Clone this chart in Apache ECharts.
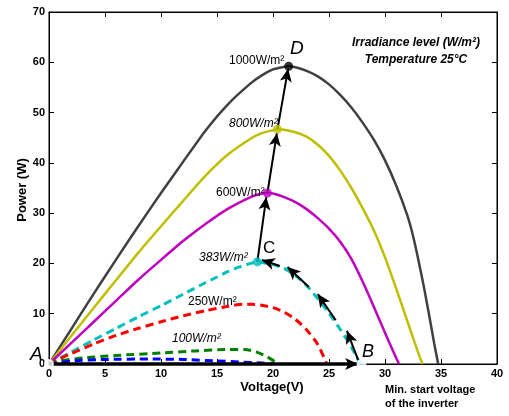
<!DOCTYPE html>
<html>
<head>
<meta charset="utf-8">
<script src="https://cdn.jsdelivr.net/npm/echarts@6/dist/echarts.min.js"></script>
<style>
  html, body { margin: 0; padding: 0; background: #fff; }
  #chart { width: 509px; height: 416px; }
</style>
</head>
<body>
<div id="chart"></div>
<script>
// P-V curves of the PV module at different irradiance levels (V in volts, P in watts)
const v1000 = [0, 1, 2, 4, 6, 8, 10, 12, 14, 16, 18, 19, 20, 21, 21.4, 22, 23, 24, 25, 26, 27, 28, 29, 30, 31, 32, 32.5, 33, 33.5, 34, 34.4, 34.75];
const p1000 = [0, 3.5, 7, 14, 20.8, 27.5, 34, 40.3, 46.5, 51.7, 55.8, 57.4, 58.6, 59.1, 59.2, 59.0, 58.3, 57.2, 55.6, 53.5, 51, 48, 44.6, 40.5, 35.5, 29.5, 25.5, 20.5, 15, 9, 4, 0];

const v800 = [0, 2, 4, 6, 8, 10, 12, 14, 16, 18, 19, 20, 20.4, 21, 22, 23, 24, 25, 26, 27, 28, 29, 30, 31, 32, 33, 33.35];
const p800 = [0, 5.6, 11.2, 16.7, 22.2, 27.4, 32.5, 37.5, 41.7, 44.8, 45.9, 46.5, 46.7, 46.6, 46.1, 45.2, 43.6, 41.4, 38.5, 35, 31, 26.6, 21.2, 15.0, 8.5, 2.0, 0];

const v600 = [0, 2, 4, 6, 8, 10, 12, 14, 16, 18, 19, 19.5, 20, 21, 22, 23, 24, 25, 26, 27, 28, 29, 30, 31, 31.25];
const p600 = [0, 4.2, 8.4, 12.6, 16.8, 20.7, 24.5, 27.9, 30.9, 33.2, 33.9, 34, 33.9, 33.2, 32.2, 30.8, 29, 26.9, 24.3, 20.9, 16.4, 11.4, 6.2, 1.2, 0];

const v383 = [0, 2, 4, 6, 8, 10, 12, 14, 15, 16, 17, 18, 18.6, 19, 20, 21, 22, 23, 24, 25, 26, 27, 27.8];
const p383 = [0, 2.4, 4.8, 7.1, 9.4, 11.6, 13.9, 16.2, 17.3, 18.4, 19.3, 20, 20.3, 20.2, 19.8, 19, 17.6, 15.6, 13, 10.1, 6.9, 3.4, 0];

const v250 = [0, 1, 2, 4, 6, 8, 10, 12, 14, 16, 17.3, 18, 19, 20, 21, 22, 23, 24, 24.8];
const p250 = [0, 1.1, 2.1, 4.0, 5.7, 7.1, 8.4, 9.6, 10.6, 11.5, 11.9, 11.9, 11.7, 11.2, 10.3, 8.9, 6.8, 3.9, 0];

const v100 = [0, 1, 3, 6, 10, 13, 16, 17.5, 18.5, 19.5, 20.5];
const p100 = [0, 0.6, 1.2, 1.7, 2.2, 2.6, 2.9, 2.9, 2.4, 1.4, 0];

const vLow = [0, 2, 5, 9, 12, 15, 17, 19, 20];
const pLow = [0, 0.6, 0.9, 1.0, 0.9, 0.6, 0.4, 0.2, 0];

// Maximum power points C (383), 600, 800 and D (1000)
const peakV = [18.6, 19.5, 20.4, 21.4];
const peakP = [20.3, 34, 46.7, 59.2];
const peakColors = ['#00bfbf', '#bf00bf', '#bfbf00', '#000000'];

// Operating points A (origin) and B (min. start voltage of the inverter)
const startV = [0, 27.9];
const startP = [0, 0];

// Tracking path arrows: [from, to] in (V, P)
const pathAB = [[0, 0], [27.6, 0]];
const pathArrows = [
  [[27.6, 0.8], [26.6, 6.6]],
  [[25.6, 8.7], [24.0, 13.9]],
  [[23.2, 15.3], [21.3, 19.3]],
  [[20.6, 19.5], [19.0, 20.7]],
  [[18.6, 20.3], [19.4, 33.2]],
  [[19.5, 34], [20.35, 45.9]],
  [[20.4, 46.7], [21.35, 58.7]]
];
const inverterNote = [[29.4, -4.8], [28.05, -0.9]];

const xTicks = { min: 0, max: 40, interval: 5 };
const yTicks = { min: 0, max: 70, interval: 10 };

const FONT = '"Liberation Sans", Arial, Helvetica, sans-serif';

const curves = [
  { name: '1000W/m²', v: v1000, p: p1000, color: '#404040', dashed: false },
  { name: '800W/m²', v: v800, p: p800, color: '#bfbf00', dashed: false },
  { name: '600W/m²', v: v600, p: p600, color: '#bf00bf', dashed: false },
  { name: '383W/m²', v: v383, p: p383, color: '#00bfbf', dashed: true },
  { name: '250W/m²', v: v250, p: p250, color: '#ff0000', dashed: true },
  { name: '100W/m²', v: v100, p: p100, color: '#008000', dashed: true },
  { name: 'low', v: vLow, p: pLow, color: '#0000ff', dashed: true }
];

const pair = (v, p) => v.map((x, i) => [x, p[i]]);

const curveSeries = curves.map(c => ({
  type: 'line',
  name: c.name,
  data: pair(c.v, c.p),
  showSymbol: false,
  smooth: 0.2,
  z: 2,
  lineStyle: { color: c.color, width: c.dashed ? 3 : 2.5, type: c.dashed ? [8, 5] : 'solid' }
}));

const arrowLines = [
  [{ coord: pathAB[0], lineStyle: { width: 3.5 }, symbolSize: [10, 13] }, { coord: pathAB[1] }],
  ...pathArrows.map(a => [{ coord: a[0] }, { coord: a[1] }]),
  [{ coord: inverterNote[0], lineStyle: { width: 1 }, symbolSize: [6, 9] }, { coord: inverterNote[1] }]
];

const chart = echarts.init(document.getElementById('chart'), null, { renderer: 'canvas' });

const makeAxis = (range, position, labels) => ({
  type: 'value',
  show: true,
  position: position,
  min: range.min,
  max: range.max,
  interval: range.interval,
  axisLine: { show: true, onZero: false, lineStyle: { color: '#000', width: 1 } },
  axisTick: { show: true, inside: true, length: 5, lineStyle: { color: '#000', width: 1 } },
  splitLine: { show: false },
  axisLabel: labels
    ? { show: true, margin: 4, color: '#000', fontFamily: FONT, fontWeight: 'bold', fontSize: 11 }
    : { show: false }
});

chart.setOption({
  animation: false,
  backgroundColor: '#fff',
  grid: { left: 49, right: 12, top: 12, bottom: 52, show: true, borderColor: '#000', borderWidth: 1, outerBoundsMode: 'none' },
  xAxis: [makeAxis(xTicks, 'bottom', true), makeAxis(xTicks, 'top', false)],
  yAxis: [makeAxis(yTicks, 'left', true), makeAxis(yTicks, 'right', false)],
  series: [
    // empty series that keeps the top and right tick axes active
    { type: 'line', name: 'frame', xAxisIndex: 1, yAxisIndex: 1, data: [], silent: true },
    ...curveSeries,
    {
      type: 'scatter',
      name: 'mpp',
      data: peakV.map((x, i) => ({ value: [x, peakP[i]], itemStyle: { color: peakColors[i] } })),
      symbol: 'circle',
      symbolSize: 9,
      z: 6
    },
    {
      type: 'scatter',
      name: 'start',
      data: pair(startV, startP),
      symbol: 'emptyCircle',
      symbolSize: 8,
      clip: false,
      z: 7,
      itemStyle: { color: '#fff', borderColor: '#000', borderWidth: 1.5 },
      markLine: {
        silent: true,
        animation: false,
        symbol: ['none', 'arrow'],
        symbolSize: [9, 13],
        label: { show: false },
        lineStyle: { color: '#000', width: 2, type: 'solid' },
        emphasis: { disabled: true },
        data: arrowLines
      }
    }
  ],
  graphic: [
    { type: 'text', x: 229, y: 61, style: { text: '1000W/m²', font: '12px ' + FONT, fill: '#000', verticalAlign: 'middle' }, z: 10 },
    { type: 'text', x: 290, y: 49, style: { text: 'D', font: 'italic 19px ' + FONT, fill: '#000', verticalAlign: 'middle' }, z: 10 },
    { type: 'text', x: 229, y: 124, style: { text: '800W/m²', font: 'italic 12px ' + FONT, fill: '#000', verticalAlign: 'middle' }, z: 10 },
    { type: 'text', x: 216, y: 193, style: { text: '600W/m²', font: '12px ' + FONT, fill: '#000', verticalAlign: 'middle' }, z: 10 },
    { type: 'text', x: 199, y: 258, style: { text: '383W/m²', font: 'italic 12px ' + FONT, fill: '#000', verticalAlign: 'middle' }, z: 10 },
    { type: 'text', x: 263, y: 248, style: { text: 'C', font: '17px ' + FONT, fill: '#000', verticalAlign: 'middle' }, z: 10 },
    { type: 'text', x: 188, y: 302, style: { text: '250W/m²', font: '12px ' + FONT, fill: '#000', verticalAlign: 'middle' }, z: 10 },
    { type: 'text', x: 172, y: 339, style: { text: '100W/m²', font: 'italic 12px ' + FONT, fill: '#000', verticalAlign: 'middle' }, z: 10 },
    { type: 'text', x: 30, y: 355, style: { text: 'A', font: 'italic 19px ' + FONT, fill: '#000', verticalAlign: 'middle' }, z: 10 },
    { type: 'text', x: 362, y: 352, style: { text: 'B', font: 'italic 18px ' + FONT, fill: '#000', verticalAlign: 'middle' }, z: 10 },
    { type: 'text', x: 385, y: 390, style: { text: 'Min. start voltage', font: 'bold 11px ' + FONT, fill: '#000', verticalAlign: 'middle' }, z: 10 },
    { type: 'text', x: 385, y: 404, style: { text: 'of the inverter', font: 'bold 11px ' + FONT, fill: '#000', verticalAlign: 'middle' }, z: 10 },
    { type: 'text', x: 416, y: 43, style: { text: 'Irradiance level (W/m²)', font: 'italic bold 12px ' + FONT, fill: '#000', align: 'center', verticalAlign: 'middle' }, z: 10 },
    { type: 'text', x: 416, y: 60, style: { text: 'Temperature 25°C', font: 'italic bold 12px ' + FONT, fill: '#000', align: 'center', verticalAlign: 'middle' }, z: 10 },
    { type: 'text', x: 272, y: 387, style: { text: 'Voltage(V)', font: 'bold 13px ' + FONT, fill: '#000', align: 'center', verticalAlign: 'middle' }, z: 10 },
    { type: 'text', x: 22, y: 190, rotation: Math.PI / 2, style: { text: 'Power (W)', font: 'bold 13px ' + FONT, fill: '#000', align: 'center', verticalAlign: 'middle' }, z: 10 }
  ]
});
</script>
</body>
</html>
